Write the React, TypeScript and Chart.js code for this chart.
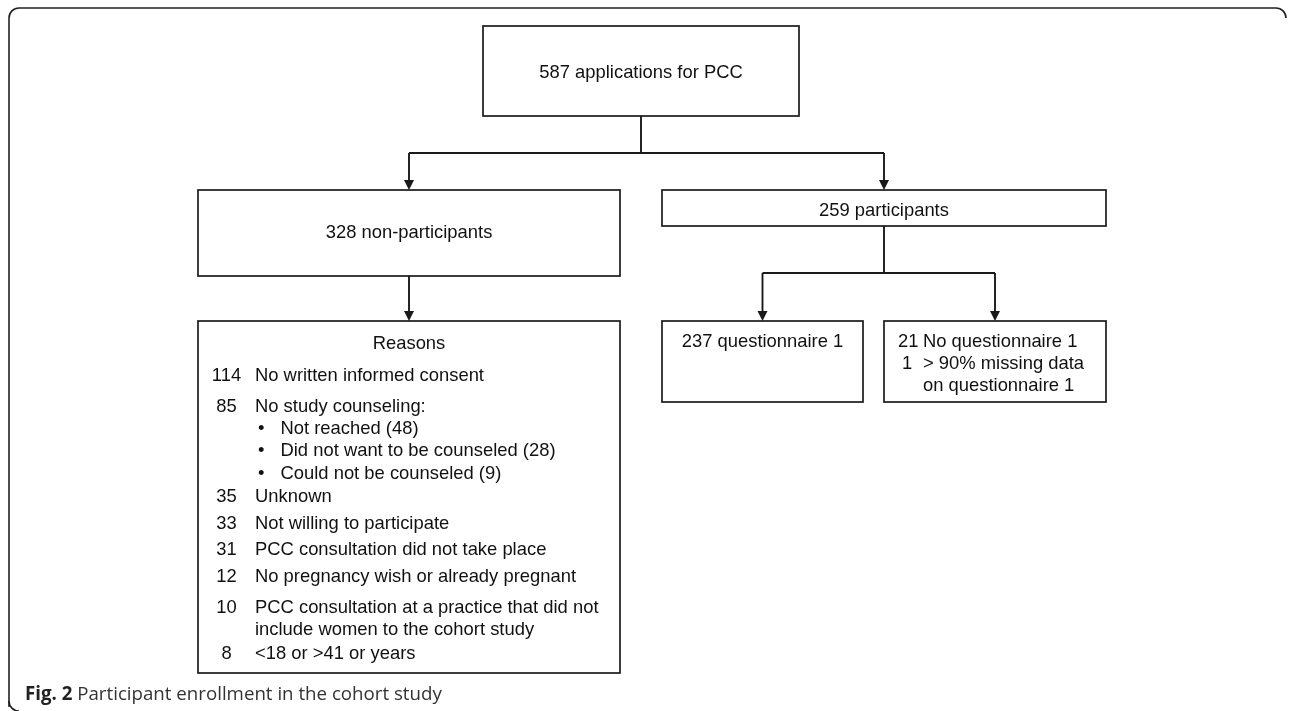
import React, { useEffect, useRef } from "react";
import { Chart, registerables } from "chart.js";

Chart.register(...registerables);

// ---------- data ----------
const totalApplications = 587;
const nonParticipants = 328;
const participants = 259;
const withQuestionnaire = 237;
const noQuestionnaire = 21;
const missingDataCount = 1;

const reasonCounts = [114, 85, 35, 33, 31, 12, 10, 8];
const reasonLabels: string[][] = [
  ["No written informed consent"],
  ["No study counseling:"],
  ["Unknown"],
  ["Not willing to participate"],
  ["PCC consultation did not take place"],
  ["No pregnancy wish or already pregnant"],
  ["PCC consultation at a practice that did not", "include women to the cohort study"],
  ["<18 or >41 or years"],
];
const counselingSubCounts = [48, 28, 9];
const counselingSubLabels = ["Not reached", "Did not want to be counseled", "Could not be counseled"];

const captionBold = "Fig. 2";
const captionText = "Participant enrollment in the cohort study";

// ---------- layout (pixel space of the hidden scales) ----------
const W = 1290;
const H = 711;
type Box = { x0: number; y0: number; x1: number; y1: number };
const boxApplications: Box = { x0: 483, y0: 26, x1: 799, y1: 116 };
const boxNonPart: Box = { x0: 198, y0: 190, x1: 620, y1: 276 };
const boxPart: Box = { x0: 662, y0: 190, x1: 1106, y1: 226 };
const boxReasons: Box = { x0: 198, y0: 321, x1: 620, y1: 673 };
const boxQ1: Box = { x0: 662, y0: 321, x1: 863, y1: 402 };
const boxNoQ1: Box = { x0: 884, y0: 321, x1: 1106, y1: 402 };
const reasonRowY = [374, 405, 495, 522, 548, 575, 606, 652];
const subRowY = [427, 449, 472];
const rowGap = 22;

const FONT = "Liberation Sans, Arial, Helvetica, sans-serif";

export default function App() {
  const ref = useRef<HTMLCanvasElement | null>(null);

  useEffect(() => {
    const canvas = ref.current;
    if (!canvas) return;

    const flowPlugin = {
      id: "flow",
      afterDraw(chart: any) {
        const ctx: CanvasRenderingContext2D = chart.ctx;
        const sx = chart.scales.x;
        const sy = chart.scales.y;
        const px = (v: number) => sx.getPixelForValue(v);
        const py = (v: number) => sy.getPixelForValue(v);
        const ink = "#1a1a1a";

        ctx.save();
        // outer frame
        ctx.strokeStyle = "#222";
        ctx.lineWidth = 1.6;
        const fx0 = px(9), fy0 = py(8), fx1 = px(1286), fy1 = py(717), r = 10;
        ctx.beginPath();
        ctx.moveTo(fx0, fy1 - r);
        ctx.lineTo(fx0, fy0 + r);
        ctx.arcTo(fx0, fy0, fx0 + r, fy0, r);
        ctx.lineTo(fx1 - r, fy0);
        ctx.arcTo(fx1, fy0, fx1, fy0 + r, r);
        ctx.stroke();
        ctx.beginPath();
        ctx.moveTo(fx0, fy1 - r - 6);
        ctx.arcTo(fx0, fy1 - 6, fx0 + r, fy1 - 6, r);
        ctx.stroke();

        const drawBox = (b: Box) => {
          ctx.strokeStyle = ink;
          ctx.lineWidth = 1.7;
          ctx.strokeRect(px(b.x0), py(b.y0), px(b.x1) - px(b.x0), py(b.y1) - py(b.y0));
        };
        [boxApplications, boxNonPart, boxPart, boxReasons, boxQ1, boxNoQ1].forEach(drawBox);

        const line = (pts: number[][]) => {
          ctx.strokeStyle = ink;
          ctx.lineWidth = 1.9;
          ctx.beginPath();
          pts.forEach((p, i) => (i === 0 ? ctx.moveTo(px(p[0]), py(p[1])) : ctx.lineTo(px(p[0]), py(p[1]))));
          ctx.stroke();
        };
        const arrow = (xv: number, yFrom: number, yTo: number) => {
          line([[xv, yFrom], [xv, yTo - 9]]);
          ctx.fillStyle = ink;
          ctx.beginPath();
          ctx.moveTo(px(xv), py(yTo));
          ctx.lineTo(px(xv) - 5, py(yTo) - 10);
          ctx.lineTo(px(xv) + 5, py(yTo) - 10);
          ctx.closePath();
          ctx.fill();
        };
        const cx = (b: Box) => (b.x0 + b.x1) / 2;
        const cy = (b: Box) => (b.y0 + b.y1) / 2;

        // connectors
        const splitY1 = 153;
        line([[cx(boxApplications), boxApplications.y1], [cx(boxApplications), splitY1]]);
        line([[cx(boxNonPart), splitY1], [cx(boxPart), splitY1]]);
        arrow(cx(boxNonPart), splitY1, boxNonPart.y0);
        arrow(cx(boxPart), splitY1, boxPart.y0);
        arrow(cx(boxNonPart), boxNonPart.y1, boxReasons.y0);
        const splitY2 = 273;
        line([[cx(boxPart), boxPart.y1], [cx(boxPart), splitY2]]);
        line([[cx(boxQ1), splitY2], [cx(boxNoQ1), splitY2]]);
        arrow(cx(boxQ1), splitY2, boxQ1.y0);
        arrow(cx(boxNoQ1), splitY2, boxNoQ1.y0);

        // text
        const fs = 18.4;
        ctx.fillStyle = "#111";
        ctx.font = `${fs}px ${FONT}`;
        ctx.textBaseline = "alphabetic";
        const off = fs * 0.36;
        const text = (s: string, xv: number, yc: number, align: CanvasTextAlign = "left") => {
          ctx.textAlign = align;
          ctx.fillText(s, px(xv), py(yc) + off);
        };
        text(`${totalApplications} applications for PCC`, cx(boxApplications), cy(boxApplications), "center");
        text(`${nonParticipants} non-participants`, cx(boxNonPart), cy(boxNonPart) - 2, "center");
        text(`${participants} participants`, cx(boxPart), 209, "center");
        text(`${withQuestionnaire} questionnaire 1`, cx(boxQ1), 340, "center");
        text(`${noQuestionnaire}`, 898, 340);
        text("No questionnaire 1", 923, 340);
        text(`${missingDataCount}`, 902, 362);
        text("> 90% missing data", 923, 362);
        text("on questionnaire 1", 923, 384);

        text("Reasons", cx(boxReasons), 342, "center");
        const numX = 226.5;
        const labX = 255;
        reasonCounts.forEach((c, i) => {
          const yv = reasonRowY[i];
          text(String(c), numX, yv, "center");
          reasonLabels[i].forEach((l, j) => text(l, labX, yv + j * rowGap));
        });
        counselingSubCounts.forEach((c, i) => {
          text("•", 258, subRowY[i]);
          text(`${counselingSubLabels[i]} (${c})`, 280.5, subRowY[i]);
        });

        // caption
        const cfs = 18.7;
        ctx.textAlign = "left";
        ctx.font = `bold ${cfs}px "Open Sans", sans-serif`;
        ctx.fillStyle = "#222";
        const capY = py(693) + cfs * 0.36;
        ctx.fillText(captionBold, px(25), capY);
        const bw = ctx.measureText(captionBold + " ").width;
        ctx.font = `${cfs}px "Open Sans", sans-serif`;
        ctx.fillStyle = "#333";
        ctx.fillText(captionText, px(25) + bw, capY);
        ctx.restore();
      },
    };

    const chart = new Chart(canvas, {
      type: "scatter",
      data: { datasets: [{ data: [], pointRadius: 0 }] },
      options: {
        animation: false,
        responsive: false,
        devicePixelRatio: 1,
        layout: { padding: 0 },
        events: [],
        plugins: { legend: { display: false }, tooltip: { enabled: false } },
        scales: {
          x: { type: "linear", min: 0, max: W, display: false },
          y: { type: "linear", min: 0, max: H, reverse: true, display: false },
        },
      },
      plugins: [flowPlugin],
    });
    return () => chart.destroy();
  }, []);

  return (
    <div style={{ position: "fixed", left: 0, top: 0, width: W, height: H, background: "#fff" }}>
      <canvas ref={ref} width={W} height={H} style={{ width: W, height: H, display: "block" }} />
    </div>
  );
}
